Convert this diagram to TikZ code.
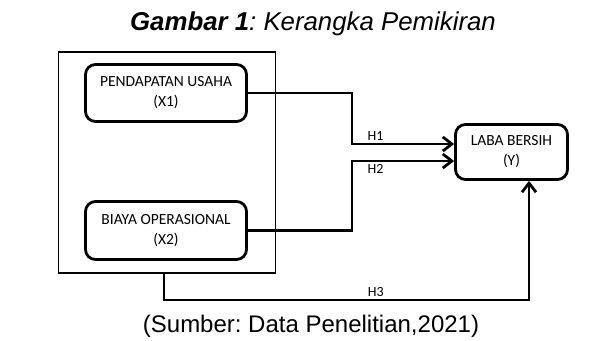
\documentclass[tikz,border=0pt]{standalone}
\usepackage{fontspec}
\setmainfont{Liberation Sans}
\newfontfamily\calibrifont{Carlito}
\usetikzlibrary{positioning, arrows.meta, calc}
\frenchspacing

\begin{document}
\begin{tikzpicture}[
    x=1pt, y=-1pt,
    >={Straight Barb[length=9pt, width=14pt]},
    varbox/.style={
        draw, rounded corners=10pt, line width=2.8pt,
        font=\calibrifont\fontsize{15.5}{20}\selectfont, align=center,
        inner sep=0pt
    },
    groupframe/.style={draw, line width=1.7pt, inner sep=0pt},
    link/.style={line width=2.8pt},
    hyplabel/.style={font=\calibrifont\fontsize{14}{16}\selectfont, inner sep=2pt},
]
\useasboundingbox (0,0) rectangle (609,340);

% Title
\node[font=\fontsize{25.8}{30}\selectfont] (title) at (313,24)
    {\textbf{\textit{Gambar 1}}\textit{: Kerangka Pemikiran}};

% Variables
\node[groupframe, minimum width=217pt, minimum height=221pt] (grp) at (167,162.5) {};
\node[varbox, minimum width=161pt, minimum height=57pt] (pu) at (166,93) {PENDAPATAN USAHA\\(X1)};
\node[varbox, minimum width=161pt, minimum height=58pt] (bo) at (166,230.5) {BIAYA OPERASIONAL\\(X2)};
\node[varbox, minimum width=112pt, minimum height=55pt] (lb) at (511.5,152) {LABA BERSIH\\(Y)};

% Bend points
\coordinate (j1) at (352,144);
\coordinate (j2) at (352,161);
\coordinate (j3) at (529,300);
\coordinate (b3) at (164,0);

% Connections
\draw[link, ->] (pu.east) -| (j1) -- node[hyplabel, above, pos=0.23] {H1} (j1 -| lb.west);
\draw[link, ->] (bo.east) -| (j2) -- node[hyplabel, below, pos=0.23] {H2} (j2 -| lb.west);
\draw[link, ->] (b3 |- grp.south) -- (b3 |- j3) -- node[hyplabel, above, pos=0.58] {H3} (j3) -- (j3 |- lb.south);

% Source
\node[font=\fontsize{24}{28}\selectfont] (src) at (311,326) {(Sumber: Data Penelitian,2021)};
\end{tikzpicture}
\end{document}
